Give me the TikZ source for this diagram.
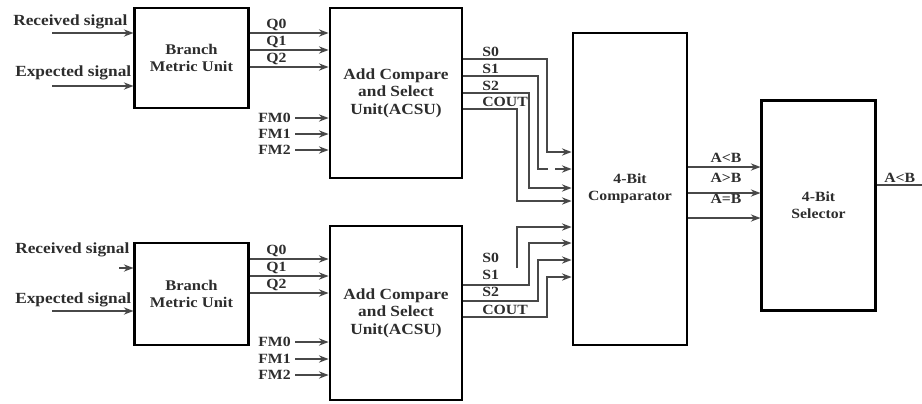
\documentclass[tikz,border=0pt]{standalone}
\usepackage{fontspec}
\setmainfont[FakeStretch=1.12]{Liberation Serif}
\usepackage{xcolor}
\usepackage{tikz}
\usetikzlibrary{arrows.meta, positioning, calc}
\definecolor{wiregray}{RGB}{72, 72, 72}
\definecolor{textgray}{RGB}{45, 45, 45}
\tikzstyle{block} = [rectangle, draw=black, line width=2pt, inner sep=0pt, align=center, text=textgray, font=\bfseries\fontsize{11}{12.5}\selectfont]
\tikzstyle{sig} = [-{Stealth[length=2.4mm, width=1.8mm]}, line width=1.3pt, draw=wiregray]
\tikzstyle{wire} = [line width=1.3pt, draw=wiregray]
\tikzstyle{lbl} = [inner sep=0pt, text=textgray, font=\bfseries\fontsize{10}{11}\selectfont]
\tikzstyle{inlbl} = [inner sep=0pt, text=textgray, font=\bfseries\fontsize{11}{12}\selectfont]

\begin{document}
\begin{tikzpicture}[x=0.025cm, y=-0.025cm]
    \useasboundingbox (0,0) rectangle (922,403);

    % Blocks
    \node[block, minimum width=2.83cm, minimum height=2.5cm, font=\bfseries\fontsize{10.5}{12}\selectfont] (bmuA) at (191.5,58) {Branch\\Metric Unit};
    \node[block, minimum width=3.3cm, minimum height=4.25cm] (acsuA) at (396,93) {Add Compare\\and Select\\Unit(ACSU)};
    \node[block, minimum width=2.83cm, minimum height=2.55cm, font=\bfseries\fontsize{10.5}{12}\selectfont] (bmuB) at (191.5,294) {Branch\\Metric Unit};
    \node[block, minimum width=3.3cm, minimum height=4.35cm] (acsuB) at (396,313) {Add Compare\\and Select\\Unit(ACSU)};
    \node[block, minimum width=2.85cm, minimum height=7.8cm, font=\bfseries\fontsize{10}{12}\selectfont] (comp) at (630,189) {4-Bit\\Comparator};
    \node[block, minimum width=2.83cm, minimum height=5.23cm, font=\bfseries\fontsize{10}{12}\selectfont] (sel) at (818.5,205.5) {4-Bit\\Selector};

    % Signal inputs
    \node[inlbl, anchor=west] (recA) at (13,22) {Received signal};
    \node[inlbl, anchor=west] (expA) at (15,73) {Expected signal};
    \node[inlbl, anchor=west] (recB) at (15,250) {Received signal};
    \node[inlbl, anchor=west] (expB) at (15,300) {Expected signal};
    \coordinate (recAin) at (52,33);
    \coordinate (expAin) at (52,86);
    \coordinate (recBin) at (119,268);
    \coordinate (expBin) at (52,311);
    \draw[sig] (recAin) -- (recAin -| bmuA.west);
    \draw[sig] (expAin) -- (expAin -| bmuA.west);
    \draw[sig] (recBin) -- (recBin -| bmuB.west);
    \draw[sig] (expBin) -- (expBin -| bmuB.west);

    % Branch metrics
    \foreach \y/\q [count=\i] in {33/Q0, 50/Q1, 67/Q2} {
        \draw[sig] (bmuA.east |- 0,\y) -- (acsuA.west |- 0,\y);
        \node[lbl, anchor=south west] (qA\i) at (266,\y-2) {\q};
    }
    \foreach \y/\q [count=\i] in {259/Q0, 276/Q1, 293/Q2} {
        \draw[sig] (bmuB.east |- 0,\y) -- (acsuB.west |- 0,\y);
        \node[lbl, anchor=south west] (qB\i) at (266,\y-2) {\q};
    }

    % Path metrics
    \foreach \y/\f [count=\i] in {118/FM0, 134/FM1, 150/FM2} {
        \node[lbl, anchor=east] (fmA\i) at (291,\y) {\f};
        \draw[sig] ($(fmA\i.east)+(4,0)$) -- (fmA\i.east -| acsuA.west);
    }
    \foreach \y/\f [count=\i] in {342/FM0, 359/FM1, 375/FM2} {
        \node[lbl, anchor=east] (fmB\i) at (291,\y) {\f};
        \draw[sig] ($(fmB\i.east)+(4,0)$) -- (fmB\i.east -| acsuB.west);
    }

    % ACSU outputs (top)
    \foreach \y/\s [count=\i] in {59/S0, 76/S1, 93/S2, 109/COUT} {
        \node[lbl, anchor=south west] (sA\i) at (482,\y-2) {\s};
    }
    \draw[sig] (acsuA.east |- 0,59) -| (547,152) -- (comp.west |- 0,152);
    \draw[wire] (acsuA.east |- 0,76) -| (538,169) -- (548,169);
    \draw[sig] (555,169) -- (comp.west |- 0,169);
    \draw[sig] (acsuA.east |- 0,93) -| (529,188) -- (comp.west |- 0,188);
    \draw[sig] (acsuA.east |- 0,109) -| (517,201) -- (comp.west |- 0,201);

    % ACSU outputs (bottom)
    \foreach \y/\s [count=\i] in {258/S0, 275/S1, 292/S2, 310/COUT} {
        \node[lbl, anchor=west] (sB\i) at (482,\y) {\s};
    }
    \coordinate (s0B) at (517,268);
    \draw[sig] (s0B) |- (comp.west |- 0,227);
    \draw[sig] (acsuB.east |- 0,285) -| (529,243) -- (comp.west |- 0,243);
    \draw[sig] (acsuB.east |- 0,301) -| (538,260) -- (comp.west |- 0,260);
    \draw[sig] (acsuB.east |- 0,317) -| (547,277) -- (comp.west |- 0,277);

    % Comparator outputs
    \foreach \y in {167, 193, 218} {
        \draw[sig] (comp.east |- 0,\y) -- (sel.west |- 0,\y);
    }
    \node[lbl] (lt) at (726,158) {A<B};
    \node[lbl] (gt) at (726,178) {A>B};
    \node[lbl] (eq) at (726,199) {A=B};

    % Selector output
    \coordinate (outE) at (922,185);
    \draw[wire] (sel.east |- outE) -- (outE);
    \node[lbl, anchor=south west] (outlbl) at (884,183) {A<B};
\end{tikzpicture}
\end{document}
